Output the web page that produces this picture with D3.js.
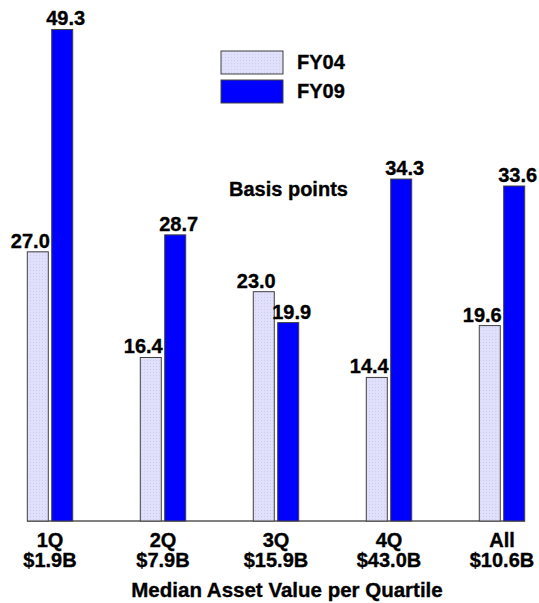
<!DOCTYPE html>
<html><head><meta charset="utf-8">
<script src="https://cdn.jsdelivr.net/npm/d3@7/dist/d3.min.js"></script>
<style>body{margin:0;background:#fff}svg{display:block}text{font-family:"Liberation Sans",Arial,sans-serif;font-weight:bold;fill:#000;stroke:#000;stroke-width:0.35px}</style>
</head><body>
<script>
const categories = ["1Q","2Q","3Q","4Q","All"];
const subLabels = ["$1.9B","$7.9B","$15.9B","$43.0B","$10.6B"];
const series = ["FY04","FY09"];
const fy04 = [27.0,16.4,23.0,14.4,19.6];
const fy09 = [49.3,28.7,19.9,34.3,33.6];
const values = {FY04: fy04, FY09: fy09};

const W=539,H=603;
const svg=d3.select("body").append("svg").attr("width",W).attr("height",H);
const defs=svg.append("defs");
const pat=defs.append("pattern").attr("id","dots").attr("width",3).attr("height",3).attr("patternUnits","userSpaceOnUse");
pat.append("rect").attr("width",3).attr("height",3).attr("fill","#e0e0fa");
pat.append("rect").attr("width",1).attr("height",1).attr("fill","#cdcdf3");
const fills={FY04:"url(#dots)",FY09:"#0000ff"};

const x=d3.scaleBand().domain(categories).range([27.3,524.7]).paddingInner(0.598).paddingOuter(0);
const xs=d3.scaleBand().domain(series).range([0,x.bandwidth()]).paddingInner(0.14).paddingOuter(0);
const y=d3.scaleLinear().domain([0,50]).range([521,22.5]);

const rows=[];
categories.forEach((c,i)=>series.forEach(s=>rows.push({c,s,v:values[s][i]})));

svg.append("line").attr("x1",27).attr("x2",525).attr("y1",y(0)).attr("y2",y(0)).attr("stroke","#808080").attr("stroke-width",2);

svg.selectAll("rect.bar").data(rows).join("rect").attr("class","bar")
 .attr("x",d=>x(d.c)+xs(d.s)).attr("width",xs.bandwidth())
 .attr("y",d=>y(d.v)).attr("height",d=>y(0)-y(d.v))
 .attr("fill",d=>fills[d.s]).attr("stroke","#404040").attr("stroke-width",1);

const off={FY04:-7.5,FY09:3.5};
svg.selectAll("text.val").data(rows).join("text").attr("class","val")
 .attr("x",d=>x(d.c)+xs(d.s)+xs.bandwidth()/2+off[d.s]).attr("y",d=>y(d.v)-4)
 .attr("text-anchor","middle").style("font-size","20px").text(d=>d.v.toFixed(1));

const xAxis=svg.append("g");
categories.forEach((c,i)=>{
  const cx=x(c)+x.bandwidth()/2;
  xAxis.append("text").attr("x",cx).attr("y",547).attr("text-anchor","middle").style("font-size","20px").text(c);
  xAxis.append("text").attr("x",cx).attr("y",567).attr("text-anchor","middle").style("font-size","20px").text(subLabels[i]);
});
svg.append("text").attr("x",287).attr("y",597).attr("text-anchor","middle").style("font-size","20.5px").text("Median Asset Value per Quartile");

svg.append("text").attr("x",229).attr("y",196).style("font-size","20px").text("Basis points");

const leg=svg.append("g");
series.forEach((s,i)=>{
  leg.append("rect").attr("x",221).attr("y",51+i*29).attr("width",62).attr("height",23).attr("fill",fills[s]).attr("stroke","#404040").attr("stroke-width",1);
  leg.append("text").attr("x",297).attr("y",69+i*29).style("font-size","20px").text(s);
});
</script>
</body></html>
